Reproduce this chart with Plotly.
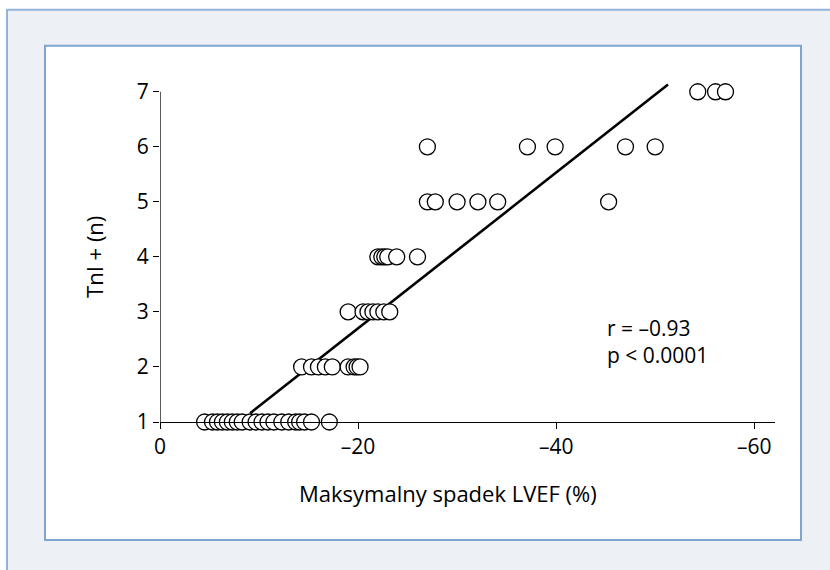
import plotly.graph_objects as go

# Data (x = max LVEF drop, y = TnI+ count)
row1_x = [-4.5, -5.3, -5.8, -6.3, -6.8, -7.3, -7.8, -8.3, -9.1, -9.7, -10.3, -10.9, -11.5, -12.3, -13.0, -13.7, -14.1, -14.6, -15.3, -17.1]
row2_x = [-14.3, -15.3, -16.0, -16.7, -17.4, -19.0, -19.6, -19.9, -20.2]
row3_x = [-19.0, -20.5, -21.0, -21.5, -22.0, -22.6, -23.2]
row4_x = [-22.0, -22.4, -22.7, -23.0, -23.9, -26.0]
row5_x = [-27.0, -27.8, -30.0, -32.1, -34.1, -45.3]
row6_x = [-27.0, -37.1, -39.9, -47.0, -50.0]
row7_x = [-54.3, -56.1, -57.1]
rows = [row1_x, row2_x, row3_x, row4_x, row5_x, row6_x, row7_x]
row_levels = [1, 2, 3, 4, 5, 6, 7]

fit_x = [-9.1, -51.3]
fit_y = [1.16, 7.13]

x_ticks = [0, -20, -40, -60]
x_ticktext = ["0", "–20", "–40", "–60"]
y_ticks = [1, 2, 3, 4, 5, 6, 7]

xs, ys = [], []
for lvl, rx in zip(row_levels, rows):
    xs += rx
    ys += [lvl] * len(rx)

FONT = "Open Sans"
YTOP = 7.25

fig = go.Figure()
fig.add_trace(go.Scatter(x=fit_x, y=fit_y, mode="lines",
                         line=dict(color="black", width=2.6), hoverinfo="skip"))
fig.add_trace(go.Scatter(x=xs, y=ys, mode="markers",
                         marker=dict(size=16, color="white", line=dict(color="black", width=1.3))))

# plot area in pixels: x 160..775, y (value 1 at 422, value 7 at 92)
L, R, B = 160, 775, 422
UNIT = 55.0
T = B - (YTOP - 1) * UNIT
W, H = R - L, B - T
def px(x): return (x - L) / W
def py(y): return (B - y) / H

fig.add_shape(type="rect", xref="paper", yref="paper", layer="below",
              x0=px(7), x1=px(845), y0=py(10), y1=py(590),
              fillcolor="#EDF1F6", line=dict(color="#93B3D8", width=2))
fig.add_shape(type="rect", xref="paper", yref="paper", layer="below",
              x0=px(45), x1=px(801), y0=py(46), y1=py(540),
              fillcolor="white", line=dict(color="#7FA5D1", width=2))
# y axis line from first to last tick
fig.add_shape(type="line", xref="x", yref="y", x0=0, x1=0, y0=y_ticks[0], y1=y_ticks[-1],
              line=dict(color="black", width=1.3))

fig.add_annotation(xref="paper", yref="paper", x=px(605), y=py(342),
                   text="r = –0.93<br>p < 0.0001", align="left",
                   showarrow=False, xanchor="left", yanchor="middle",
                   font=dict(family=FONT, size=21, color="black"))
fig.add_annotation(xref="paper", yref="paper", x=px(448), y=py(493), text="Maksymalny spadek LVEF (%)",
                   showarrow=False, xanchor="center", yanchor="middle",
                   font=dict(family=FONT, size=22, color="black"))
fig.add_annotation(xref="paper", yref="paper", x=px(94), y=py(257), text="TnI + (n)",
                   showarrow=False, textangle=-90, xanchor="center", yanchor="middle",
                   font=dict(family=FONT, size=22, color="black"))

fig.update_xaxes(range=[0, -62.1], tickvals=x_ticks, ticktext=x_ticktext,
                 showline=True, linecolor="black", linewidth=1.3, ticks="outside",
                 ticklen=6, tickcolor="black", tickwidth=1.3, showgrid=False, zeroline=False,
                 tickfont=dict(family=FONT, size=21, color="black"))
fig.update_yaxes(range=[1, YTOP], tickvals=y_ticks,
                 showline=False, ticks="outside",
                 ticklen=6, tickcolor="black", tickwidth=1.3, showgrid=False, zeroline=False,
                 tickfont=dict(family=FONT, size=21, color="black"))

fig.update_layout(width=830, height=570, margin=dict(l=L, r=830 - R, t=T, b=570 - B),
                  paper_bgcolor="white", plot_bgcolor="rgba(0,0,0,0)",
                  showlegend=False, font=dict(family=FONT))
fig.update_traces(cliponaxis=False)

fig.write_html("out.html")
